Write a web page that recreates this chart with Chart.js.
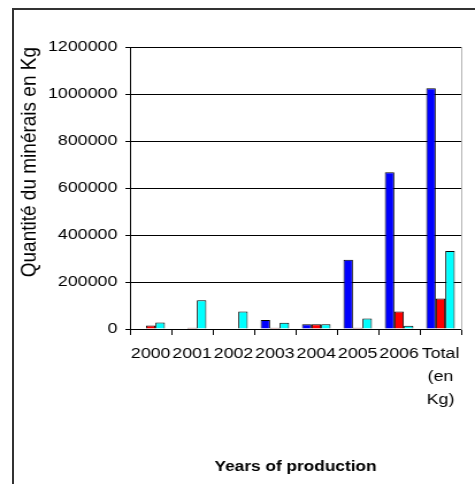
<!DOCTYPE html>
<html>
<head>
<meta charset="utf-8">
<script src="https://cdn.jsdelivr.net/npm/chart.js@4/dist/chart.umd.min.js"></script>
<style>
  html, body { margin: 0; padding: 0; background: #fff; overflow: hidden; }
  #wrap { position: relative; width: 475px; height: 484px; }
  #frame {
    position: absolute; left: 12px; top: 8px; width: 520px; height: 520px;
    border-left: 2px solid #333; border-top: 2px solid #333;
  }
  #c { position: absolute; left: 0; top: 0; }
</style>
</head>
<body>
<div id="wrap">
  <div id="frame"></div>
  <canvas id="c" width="413" height="484" style="width:475px;height:484px"></canvas>
</div>
<script>
// Production per year, in kg
const categories = ['2000', '2001', '2002', '2003', '2004', '2005', '2006', 'Total (en Kg)'];
const serieBleue = [0, 0, 0, 38000, 20000, 295000, 667000, 1024000];
const serieRouge = [15000, 5000, 0, 5000, 20000, 5000, 74000, 130000];
const serieCyan  = [28000, 122000, 74000, 27000, 20000, 45000, 14000, 332000];
const yTicks = [0, 200000, 400000, 600000, 800000, 1000000, 1200000];

const FONT = "'Liberation Sans', Arial, sans-serif";

function serie(label, data, color) {
  return {
    label, data,
    backgroundColor: color,
    borderColor: '#000',
    borderWidth: 1,
    barPercentage: 1,
    categoryPercentage: 0.69
  };
}

new Chart(document.getElementById('c'), {
  type: 'bar',
  data: {
    labels: categories,
    datasets: [
      serie('Série 1', serieBleue, '#0000ff'),
      serie('Série 2', serieRouge, '#ff0000'),
      serie('Série 3', serieCyan, '#00ffff')
    ]
  },
  options: {
    responsive: false,
    devicePixelRatio: 1,
    animation: false,
    layout: { padding: { left: 0, right: 12, top: 47, bottom: 0 } },
    plugins: { legend: { display: false }, tooltip: { enabled: false } },
    scales: {
      x: {
        grid: { offset: true, drawOnChartArea: false, drawTicks: true, tickLength: 6, color: '#000' },
        border: { color: '#000', width: 1 },
        ticks: {
          color: '#000',
          font: { family: FONT, size: 15.5, lineHeight: 1.5 },
          padding: 7,
          autoSkip: false,
          maxRotation: 0,
          callback: function (v) {
            const l = this.getLabelForValue(v);
            return l.includes(' ') ? l.split(' ') : l;
          }
        },
        title: {
          display: true,
          text: 'Years of production',
          color: '#000',
          font: { family: FONT, size: 15, weight: 'bold', lineHeight: 1.2 },
          padding: { top: 0, bottom: 8 }
        },
        afterFit: (s) => { s.height = 155; }
      },
      y: {
        min: 0,
        max: 1200000,
        afterBuildTicks: (s) => { s.ticks = yTicks.map(v => ({ value: v })); },
        grid: { color: '#000', lineWidth: 1, drawTicks: true, tickLength: 4 },
        border: { color: '#000', width: 1 },
        ticks: {
          color: '#000',
          font: { family: FONT, size: 15.5 },
          padding: 7,
          callback: (v) => String(v)
        },
        title: {
          display: true,
          text: 'Quantité du minérais en Kg',
          align: 'end',
          color: '#000',
          font: { family: FONT, size: 19, lineHeight: 1.2 },
          padding: { top: 14, bottom: 0 }
        },
        afterFit: (s) => { s.width = 113; }
      },
      bord: {
        type: 'linear',
        position: 'right',
        grid: { drawOnChartArea: false, drawTicks: false },
        border: { color: '#b4b4b4', width: 1 },
        ticks: { display: false }
      }
    }
  }
});
</script>
</body>
</html>
